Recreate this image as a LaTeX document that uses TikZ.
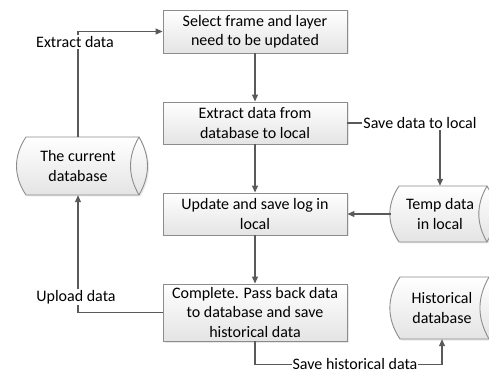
\documentclass[tikz,border=0pt]{standalone}
\usepackage{fontspec}
\setmainfont{Carlito}
\usetikzlibrary{arrows.meta,shadows}
\definecolor{boxgray}{HTML}{8C8C8C}
\definecolor{fillgray}{HTML}{E4E4E4}
\definecolor{linegray}{HTML}{5A5A5A}
% xL xR ymid ry
\newcommand\dbcyl[4]{%
  \path[cylbody] (#1,#3-#4) to[bend left=34] (#1,#3+#4) -- (#2,#3+#4)
    to[bend left=30] (#2,#3-#4) -- cycle;
  \draw[cylline] (#2,#3+#4) to[bend right=30] (#2,#3-#4);}
\begin{document}
\begin{tikzpicture}[x=1pt,y=1pt,
  font=\fontsize{16}{19.5}\selectfont,
  shadowed/.style={drop shadow={opacity=0.18,shadow xshift=1.5pt,shadow yshift=-1.5pt}},
  procbox/.style={draw=boxgray, line width=0.9pt, top color=white, bottom color=fillgray,
     minimum width=184pt, align=center, inner sep=0pt, shadowed},
  cylbody/.style={draw=boxgray, line width=0.9pt, top color=white, bottom color=fillgray, shadowed},
  cylline/.style={draw=boxgray, line width=0.9pt},
  cyltext/.style={align=center, inner sep=0pt},
  conn/.style={draw=linegray, line width=1.1pt, -{Triangle[length=7pt,width=6pt]}},
  lbl/.style={fill=white, inner sep=1pt}]
\useasboundingbox (0,0) rectangle (489,372);

% boxes
\node[procbox, minimum height=43pt] (b1) at (255,340.5) {Select frame and layer\\need to be updated};
\node[procbox, minimum height=42pt] (b2) at (255,249) {Extract data from\\database to local};
\node[procbox, minimum height=42pt] (b3) at (255,158) {Update and save log in\\local};
\node[procbox, minimum height=57pt] (b4) at (255,59.5) {Complete. Pass back data\\to database and save\\historical data};

% cylinders
\dbcyl{26}{139}{206}{29}
\dbcyl{399}{487}{158}{28}
\dbcyl{400}{489}{64}{31}
\node[cyltext, minimum width=20pt, minimum height=58pt] (cur) at (78,206) {The current\\database};
\node[cyltext, minimum width=98pt, minimum height=56pt] (temp) at (440,158) {Temp data\\in local};
\node[cyltext, minimum width=98pt, minimum height=62pt] (hist) at (442,64) {Historical\\database};

% connectors
\draw[conn] (cur.north) |- (b1.west);
\node[lbl] (lex) at (75,330) {Extract data};
\draw[conn] (b1.south) -- (b2.north);
\draw[conn] (b2.south) -- (b3.north);
\draw[conn] (b3.south) -- (b4.north);
\draw[conn] (b2.east) -| (temp.north);
\node[lbl] (lsave) at (420,249) {Save data to local};
\draw[conn] (temp.west) -- (b3.east);
\draw[conn] (b4.west) -| (cur.south);
\node[lbl] (lup) at (76,75) {Upload data};
\draw[conn] (b4.south) -- ++(0,-23) -| (hist.south);
\node[lbl] (lhist) at (355,8) {Save historical data};
\end{tikzpicture}
\end{document}
